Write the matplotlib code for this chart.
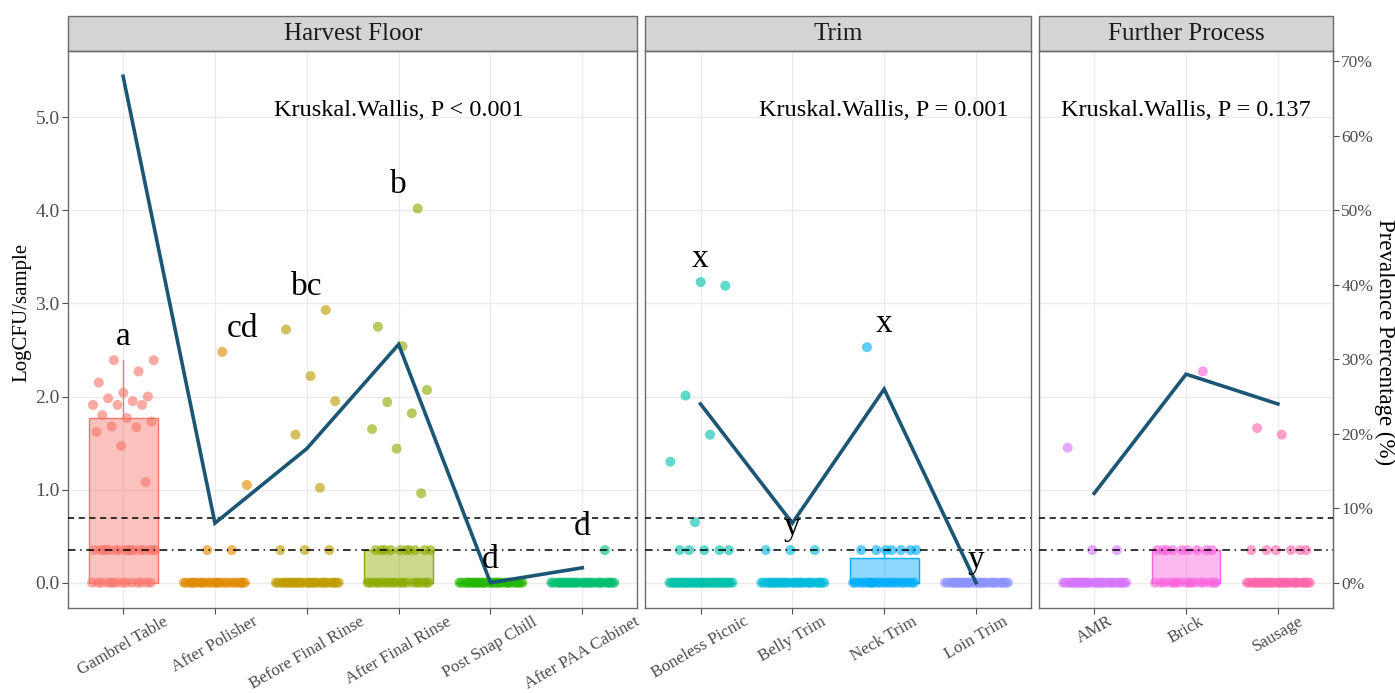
import numpy as np
import matplotlib
matplotlib.use("Agg")
import matplotlib.pyplot as plt
from matplotlib.patches import Rectangle
from matplotlib.colors import to_rgba

plt.rcParams['font.family'] = ['Liberation Serif', 'DejaVu Serif']

# sampling sites per processing area
harvest_sites = ["Gambrel Table", "After Polisher", "Before Final Rinse",
                 "After Final Rinse", "Post Snap Chill", "After PAA Cabinet"]
trim_sites = ["Boneless Picnic", "Belly Trim", "Neck Trim", "Loin Trim"]
further_sites = ["AMR", "Brick", "Sausage"]

# LogCFU/sample per site (0.35 = below quantification limit)
gambrel_table = [0.0] * 14 + [0.35] * 16 + [1.08, 1.47, 1.62, 1.67, 1.68, 1.73, 1.77, 1.80, 1.91, 1.91,
                                            1.91, 1.95, 1.98, 2.00, 2.04, 2.15, 2.27, 2.39, 2.39]
after_polisher = [0.0] * 25 + [0.35] * 2 + [1.05, 2.48]
before_final_rinse = [0.0] * 30 + [0.35] * 3 + [1.02, 1.59, 1.95, 2.22, 2.72, 2.93]
after_final_rinse = [0.0] * 20 + [0.35] * 10 + [0.96, 1.44, 1.65, 1.82, 1.94, 2.07, 2.54, 2.75, 4.02]
post_snap_chill = [0.0] * 30
after_paa_cabinet = [0.0] * 30 + [0.35]
boneless_picnic = [0.0] * 34 + [0.35] * 5 + [0.65, 1.30, 1.59, 2.01, 3.19, 3.23]
belly_trim = [0.0] * 30 + [0.35] * 3
neck_trim = [0.0] * 22 + [0.35] * 7 + [2.53]
loin_trim = [0.0] * 30
amr = [0.0] * 30 + [0.35] * 2 + [1.45]
brick = [0.0] * 16 + [0.35] * 9 + [2.27]
sausage = [0.0] * 30 + [0.35] * 6 + [1.59, 1.66]

# prevalence (%) per site
harvest_prev = [68, 8, 18, 32, 0, 2]
trim_prev = [24, 8, 26, 0]
further_prev = [12, 28, 24]

# compact letter display
harvest_letters = ["a", "cd", "bc", "b", "d", "d"]
trim_letters = ["x", "y", "x", "y"]
further_letters = ["", "", ""]
# sideways nudge so a letter clears the prevalence line
harvest_nudge = [0, 0.3, 0, 0, 0, 0]
trim_nudge = [0, 0, 0, 0]
further_nudge = [0, 0, 0]

kw_labels = ["Kruskal.Wallis, P < 0.001", "Kruskal.Wallis, P = 0.001", "Kruskal.Wallis, P = 0.137"]
facet_titles = ["Harvest Floor", "Trim", "Further Process"]

site_colors = ["#F8766D", "#E18A00", "#BE9C00", "#8CAB00", "#24B700", "#00BE70", "#00C1AB",
               "#00BBDA", "#00ACFC", "#8B93FF", "#D575FE", "#F962DD", "#FF65AC"]

prev_scale = 0.08  # 1 % prevalence = 0.08 LogCFU on the left axis
line_color = "#1B5675"

panels = [
    (harvest_sites, [gambrel_table, after_polisher, before_final_rinse, after_final_rinse,
                     post_snap_chill, after_paa_cabinet], harvest_prev, harvest_letters, harvest_nudge),
    (trim_sites, [boneless_picnic, belly_trim, neck_trim, loin_trim], trim_prev, trim_letters, trim_nudge),
    (further_sites, [amr, brick, sausage], further_prev, further_letters, further_nudge),
]
kw_at = [3, 2, 1]

W, H = 1395, 693
fig = plt.figure(figsize=(W / 100, H / 100), dpi=100)

left_px, right_px, gap_px = 68, 1333, 8
top_px, bottom_px, strip_px = 51, 608, 35
unit = (right_px - left_px - 2 * gap_px) / sum(len(p[0]) + 0.2 for p in panels)

ymax = max(max(harvest_prev), max(trim_prev), max(further_prev)) * prev_scale
ylim = (-0.05 * ymax, ymax * 1.05)

grey_border = "#6b6b6b"
x0 = left_px
col = 0
axes = []
for k, (sites, values, prev, letters, nudge) in enumerate(panels):
    n = len(sites)
    wpx = unit * (n + 0.2)
    ax = fig.add_axes([x0 / W, 1 - bottom_px / H, wpx / W, (bottom_px - top_px) / H])
    x0 += wpx + gap_px
    axes.append(ax)
    pos = np.arange(n)

    for i, vals in enumerate(values):
        c = site_colors[col + i]
        ax.boxplot(vals, positions=[i], widths=0.75, patch_artist=True, showfliers=False,
                   showcaps=False, manage_ticks=False,
                   boxprops=dict(facecolor=to_rgba(c, 0.45), edgecolor=c, linewidth=1.0),
                   medianprops=dict(color=c, linewidth=1.0),
                   whiskerprops=dict(color=c, linewidth=1.0), zorder=2)
        # spread points sideways with a fixed low-discrepancy jitter
        j = np.arange(len(vals))
        off = ((j * 0.6180339887 + 0.31) % 1.0 - 0.5) * 0.7
        ax.scatter(i + off, vals, s=52, color=c, alpha=0.62, edgecolors='none', zorder=3)
        if letters[i]:
            ax.text(i + nudge[i], max(vals) + 0.25, letters[i], ha='center', va='center',
                    fontsize=24, zorder=6)
    col += n

    ax.axhline(0.7, color='black', lw=1.1, ls=(0, (4, 3)), zorder=4)
    ax.axhline(0.35, color='black', lw=1.1, ls=(0, (5, 3, 1, 3)), zorder=4)
    ax.plot(pos, np.array(prev) * prev_scale, color=line_color, lw=2.6, zorder=5,
            solid_joinstyle='miter')
    ax.text(kw_at[k], 5.07, kw_labels[k], ha='center', va='center', fontsize=17.5, zorder=6)

    ax.set_xlim(-0.6, n - 0.4)
    ax.set_ylim(*ylim)
    ax.set_xticks(pos)
    ax.set_xticklabels(sites, rotation=30, ha='center', va='top', fontsize=12.3,
                       color='#4D4D4D', rotation_mode='default')
    ax.set_yticks(np.arange(0, 5.5, 1.0))
    if k == 0:
        ax.set_yticklabels([f"{v:.1f}" for v in np.arange(0, 5.5, 1.0)], fontsize=14, color='#4D4D4D')
        ax.set_ylabel("LogCFU/sample", fontsize=15)
        ax.yaxis.set_label_coords(-0.064, 0.53)
    else:
        ax.tick_params(axis='y', left=False, labelleft=False)
    ax.grid(True, color='#EBEBEB', lw=1.0, zorder=0)
    ax.set_axisbelow(True)
    ax.tick_params(axis='both', color='#4D4D4D', length=4, width=0.8, pad=2)
    ax.tick_params(axis='x', pad=0)
    for s in ax.spines.values():
        s.set_color(grey_border)
        s.set_linewidth(1.0)

    # facet strip
    sh = strip_px / (bottom_px - top_px)
    ax.add_patch(Rectangle((0, 1), 1, sh, transform=ax.transAxes, clip_on=False,
                           facecolor='#D4D4D4', edgecolor=grey_border, lw=1.0))
    ax.text(0.5, 1 + sh / 2, facet_titles[k], transform=ax.transAxes, ha='center',
            va='center', fontsize=18, color='#1A1A1A')

sec = axes[-1].secondary_yaxis('right', functions=(lambda y: y / prev_scale, lambda p: p * prev_scale))
sec.set_yticks(np.arange(0, 71, 10))
sec.set_yticklabels([f"{p}%" for p in range(0, 71, 10)], fontsize=12.5, color='#4D4D4D')
sec.tick_params(color='#4D4D4D', length=4, width=0.8, pad=2)
sec.spines['right'].set_color(grey_border)
fig.text(1385 / W, 1 - 342 / H, "Prevalence Percentage (%)", rotation=-90, fontsize=16.5,
         ha='center', va='center')

fig.savefig("out.png", dpi=100, facecolor='white')
